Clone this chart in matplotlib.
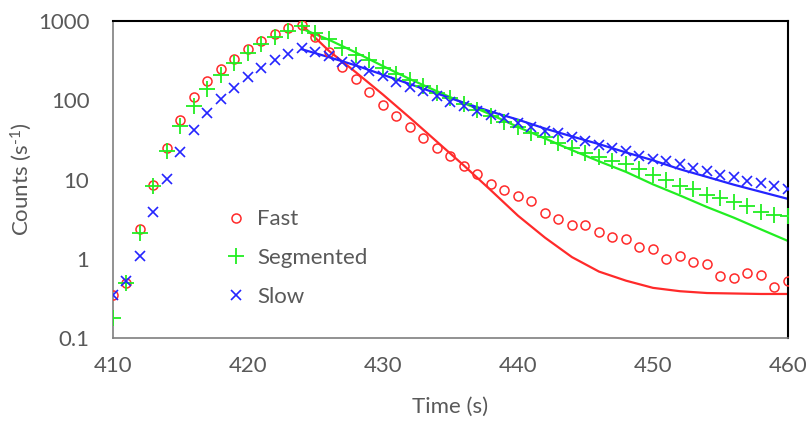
import matplotlib
matplotlib.use("Agg")
import matplotlib.pyplot as plt
import numpy as np

plt.rcParams['font.family'] = ['Lato', 'DejaVu Sans']
plt.rcParams['mathtext.fontset'] = 'custom'
plt.rcParams['mathtext.rm'] = 'Lato'
plt.rcParams['mathtext.it'] = 'Lato:italic'
plt.rcParams['mathtext.bf'] = 'Lato:bold'

time = list(range(410, 461))
fast = [0.35, 0.5, 2.35, 8.6, 25, 57, 110, 176, 249, 333, 445, 565, 685, 809, 890,
        635, 411, 266, 185, 129, 86, 62.5, 46, 33.4, 25, 19.6, 15, 11.9, 8.9, 7.3,
        6.2, 5.3, 3.8, 3.2, 2.7, 2.7, 2.17, 1.88, 1.76, 1.41, 1.34, 0.99, 1.1, 0.91,
        0.87, 0.61, 0.57, 0.67, 0.62, 0.44, 0.52]
segmented = [0.18, 0.5, 2.1, 8.4, 22.7, 46.8, 85, 138, 209, 294, 393, 509, 624, 755, 873,
             713, 590, 454, 373, 323, 254, 215, 181, 152, 125, 107, 90, 76, 64, 54,
             46, 39, 34, 29, 25, 21.7, 19.3, 17.3, 15.7, 13.7, 11.3, 10, 8.4, 7.5,
             6.4, 5.8, 5.25, 4.6, 3.9, 3.55, 3.5]
slow = [0.35, 0.52, 1.08, 3.9, 10.3, 22.3, 41.7, 69, 104, 142, 196, 254, 323, 384, 454,
        411, 363, 308, 280, 237, 203, 172, 149, 132, 112, 94, 84, 74, 66, 60,
        52, 46, 40.5, 38.6, 34.4, 30.3, 27.5, 25, 22.7, 19.6, 18.4, 17.3, 15.7, 14,
        13, 11.3, 10.7, 9.7, 9.1, 8.4, 7.6]

fit_time = [424, 426, 428, 430, 432, 434, 436, 438, 440, 442, 444, 446, 448, 450,
            452, 454, 456, 458, 460]
fit_fast = [890, 420, 225, 118, 60, 30, 15, 7.3, 3.5, 1.85, 1.05, 0.69, 0.53, 0.43,
            0.39, 0.37, 0.365, 0.36, 0.36]
fit_segmented = [800, 580, 400, 270, 185, 130, 92, 66, 46, 33, 23.5, 17, 12.5, 8.7,
                 6.3, 4.5, 3.3, 2.35, 1.68]
fit_slow = [440, 350, 275, 210, 160, 122, 93, 72, 57, 44, 35, 28, 22, 17.5,
            13.5, 10.8, 8.6, 7.0, 5.7]

red = '#FF2A2A'
green = '#22EE22'
blue = '#2424FF'
gray = '#595959'

fig = plt.figure(figsize=(8.1, 4.21), dpi=100)
ax = fig.add_axes([0.1395, 0.197, 0.8333, 0.753])

ax.plot(fit_time, fit_fast, color=red, lw=1.6, zorder=2)
ax.plot(fit_time, fit_segmented, color=green, lw=1.6, zorder=2)
ax.plot(fit_time, fit_slow, color=blue, lw=1.6, zorder=2)

ax.plot(time, fast, 'o', mfc='none', mec=red, ms=6.5, mew=1.1, label='Fast', zorder=3)
ax.plot(time, segmented, '+', color=green, ms=12, mew=1.3, label='Segmented', zorder=3)
ax.plot(time, slow, 'x', color=blue, ms=7, mew=1.2, label='Slow', zorder=3)

ax.set_yscale('log')
ax.set_xlim(410, 460)
ax.set_ylim(0.1, 1000)
ax.set_xticks([410, 420, 430, 440, 450, 460])
ax.set_yticks([0.1, 1, 10, 100, 1000])
ax.set_yticklabels(['0.1', '1', '10', '100', '1000'])
ax.minorticks_off()
ax.tick_params(axis='both', length=0, labelsize=16, labelcolor=gray)
ax.tick_params(axis='x', pad=13)
ax.tick_params(axis='y', pad=17)

for s in ['top', 'right']:
    ax.spines[s].set_color('black')
    ax.spines[s].set_linewidth(1.5)
for s in ['left', 'bottom']:
    ax.spines[s].set_color('#7f7f7f')
    ax.spines[s].set_linewidth(1.2)

ax.set_xlabel('Time (s)', fontsize=16, color=gray, labelpad=15)
ax.set_ylabel('Counts (s$^{\\mathregular{\u20101}}$)', fontsize=16, color=gray, labelpad=3)

leg = ax.legend(loc='center left', bbox_to_anchor=(0.136, 0.252), frameon=False,
                fontsize=16, labelcolor=gray, handlelength=1.0,
                handletextpad=0.45, labelspacing=0.85)

fig.savefig('out.png', dpi=100)
